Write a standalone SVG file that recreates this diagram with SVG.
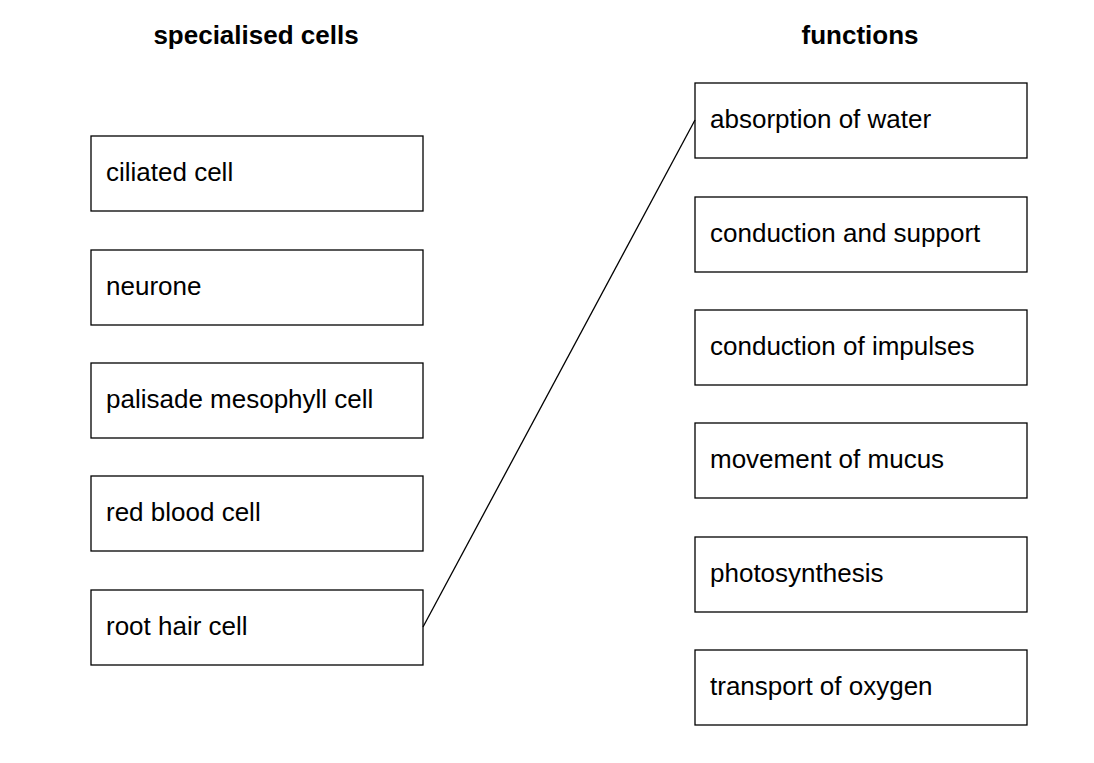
<svg xmlns="http://www.w3.org/2000/svg" width="1094" height="763" viewBox="0 0 1094 763">
<style>
rect{fill:#fff;stroke:#000;stroke-width:1.3}
text{font-family:"Liberation Sans",Arial,sans-serif;font-size:26px;fill:#000}
.h{font-weight:bold;text-anchor:middle}
</style>
<rect x="0" y="0" width="1094" height="763" style="stroke:none"/>
<text class="h" x="256" y="44">specialised cells</text>
<text class="h" x="860" y="44">functions</text>
<g id="l1"><rect x="91" y="136" width="332" height="75"/><text x="106" y="181">ciliated cell</text></g>
<g id="l2"><rect x="91" y="250" width="332" height="75"/><text x="106" y="295">neurone</text></g>
<g id="l3"><rect x="91" y="363" width="332" height="75"/><text x="106" y="408">palisade mesophyll cell</text></g>
<g id="l4"><rect x="91" y="476" width="332" height="75"/><text x="106" y="521">red blood cell</text></g>
<g id="l5"><rect x="91" y="590" width="332" height="75"/><text x="106" y="635">root hair cell</text></g>
<g id="r1"><rect x="695" y="83" width="332" height="75"/><text x="710" y="128">absorption of water</text></g>
<g id="r2"><rect x="695" y="197" width="332" height="75"/><text x="710" y="242">conduction and support</text></g>
<g id="r3"><rect x="695" y="310" width="332" height="75"/><text x="710" y="355">conduction of impulses</text></g>
<g id="r4"><rect x="695" y="423" width="332" height="75"/><text x="710" y="468">movement of mucus</text></g>
<g id="r5"><rect x="695" y="537" width="332" height="75"/><text x="710" y="582">photosynthesis</text></g>
<g id="r6"><rect x="695" y="650" width="332" height="75"/><text x="710" y="695">transport of oxygen</text></g>
<g id="connectors"><line x1="423" y1="627" x2="695" y2="120" stroke="#000" stroke-width="1.3"/></g>
</svg>
